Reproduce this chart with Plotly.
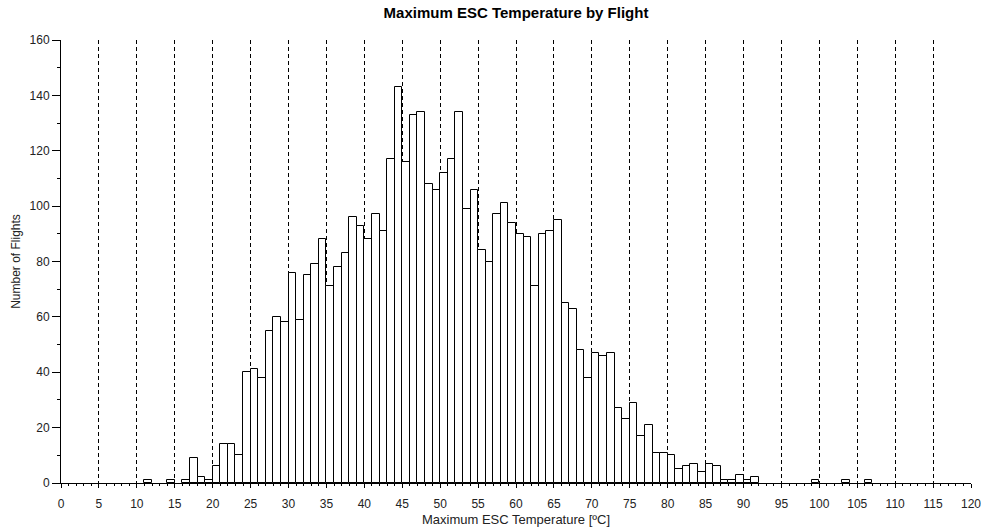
import plotly.graph_objects as go

# Histogram bins (left edge, width 1 ºC) with non-zero counts
bin_left = [11, 14, 16, 17, 18, 19, 20, 21, 22, 23, 24, 25, 26, 27, 28, 29,
            30, 31, 32, 33, 34, 35, 36, 37, 38, 39, 40, 41, 42, 43, 44, 45,
            46, 47, 48, 49, 50, 51, 52, 53, 54, 55, 56, 57, 58, 59, 60, 61,
            62, 63, 64, 65, 66, 67, 68, 69, 70, 71, 72, 73, 74, 75, 76, 77,
            78, 79, 80, 81, 82, 83, 84, 85, 86, 87, 88, 89, 90, 91, 99, 103, 106]
flights = [1, 1, 1, 9, 2, 1, 6, 14, 14, 10, 40, 41, 38, 55, 60, 58,
           76, 59, 75, 79, 88, 71, 78, 83, 96, 93, 88, 97, 91, 117, 143, 116,
           133, 134, 108, 106, 112, 117, 134, 99, 106, 84, 80, 97, 101, 94, 90, 89,
           71, 90, 91, 95, 65, 63, 48, 38, 47, 46, 47, 27, 23, 29, 17, 21,
           11, 11, 10, 5, 6, 7, 4, 7, 6, 1, 1, 3, 1, 2, 1, 1, 1]
bin_width = 1

title = "Maximum ESC Temperature by Flight"
x_title = "Maximum ESC Temperature [ºC]"
y_title = "Number of Flights"

centers = [b + bin_width / 2 for b in bin_left]

fig = go.Figure()
fig.add_trace(go.Bar(
    x=centers, y=flights, width=bin_width,
    marker=dict(color="white", line=dict(color="black", width=1)),
    showlegend=False,
))

font = "Liberation Sans, Arial, sans-serif"
txt = "#222"
fig.update_layout(
    width=981, height=527,
    margin=dict(l=61, r=10, t=40, b=44),
    paper_bgcolor="white", plot_bgcolor="white",
    title=dict(text="<b>" + title + "</b>", x=0.526, xanchor="center",
               y=0.975, yanchor="middle",
               font=dict(family=font, size=15, color="black")),
    font=dict(family=font, size=12, color=txt),
    bargap=0,
)
fig.update_xaxes(
    range=[0, 120], tick0=0, dtick=5, showline=True, linecolor="black", linewidth=1,
    ticks="outside", ticklen=4, tickcolor="black", automargin=False,
    ticklabelstandoff=6, ticklabeloverflow="allow",
    showgrid=True, gridcolor="black", gridwidth=1, griddash="4px,3px",
    zeroline=False,
    minor=dict(dtick=1, ticks="outside", ticklen=2, tickcolor="black", showgrid=False),
    title=dict(text=x_title, font=dict(size=13, color=txt), standoff=5),
    tickfont=dict(size=12, color=txt),
)
fig.update_yaxes(
    range=[0, 160], tick0=0, dtick=20, showline=True, linecolor="black", linewidth=1,
    ticks="outside", ticklen=8, tickcolor="black", automargin=False,
    showgrid=False, zeroline=False,
    minor=dict(dtick=10, ticks="outside", ticklen=3, tickcolor="black", showgrid=False),
    title=dict(text=y_title, font=dict(size=12, color=txt), standoff=6),
    tickfont=dict(size=12, color=txt),
)

fig.write_html("out.html", config={"displayModeBar": False},
               post_script="document.body.style.margin='0';")
